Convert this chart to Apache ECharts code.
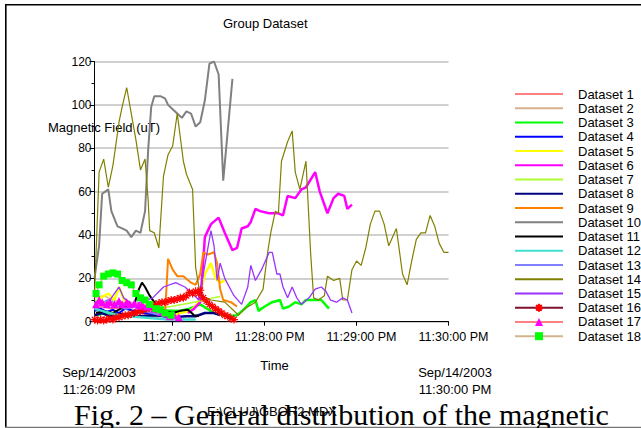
<!DOCTYPE html>
<html><head><meta charset="utf-8">
<script src="https://cdn.jsdelivr.net/npm/echarts@6/dist/echarts.min.js"></script>
<style>html,body{margin:0;padding:0;background:#fff}#c{width:641px;height:428px}</style>
</head><body><div id="c"></div>
<script>
// ---- data: [seconds after 11:26:09 PM, magnetic field uT] ----
const seriesNames = ['Dataset 1','Dataset 2','Dataset 3','Dataset 4','Dataset 5','Dataset 6','Dataset 7','Dataset 8','Dataset 9','Dataset 10','Dataset 11','Dataset 12','Dataset 13','Dataset 14','Dataset 15','Dataset 16','Dataset 17','Dataset 18'];
const xTickValues = [51, 111, 171, 231];
const xTickLabels = ['11:27:00 PM', '11:28:00 PM', '11:29:00 PM', '11:30:00 PM'];
const xStartLabel = ['Sep/14/2003', '11:26:09 PM'];
const xEndLabel = ['Sep/14/2003', '11:30:00 PM'];

const ds1 = [[0,6],[6,7],[12,6],[18,7],[24,5],[30,4],[36,3],[42,2]];
const ds2 = [[0,11],[6,12],[12,10],[18,9],[24,8],[30,7],[36,5],[42,4]];
const ds3 = [[0,3],[8,4],[16,3],[25,4],[35,5],[45,5],[55,5],[62,6],[69,8],[78,4],[86,2.5],[93,3],[98,6],[102,9],[105,10],[107,5],[111,7],[116,9],[121,10],[123,6],[127,7],[131,9],[135,8],[138,10],[143,10],[148,10],[153,6]];
const ds4 = [[0,5],[4,6],[8,4.5],[12,5.5],[16,4],[20,6],[26,5],[32,4],[38,3.5],[44,3],[50,2]];
const ds5 = [[0,8],[4,11],[9,13],[13,10],[16,16],[20,9],[25,7],[30,6],[37,5],[43,4],[50,3],[56,4],[63,5],[68,9],[72,22],[76,27],[79,20],[82,18],[85,19]];
const ds6 = [[61,4],[65,6],[69,9],[71,28],[72,39],[76,45],[81,48],[85,41],[90,33],[93,34],[96,43],[100,44],[102,46],[105,52],[108,51],[114,50],[120,50],[123,49],[126,58],[131,57],[135,61],[138,62],[144,69],[147,60],[152,50],[156,57],[159,59],[163,58],[165,52],[168,54]];
const ds7 = [[0,10],[10,9],[20,8],[30,7],[40,6],[50,7],[58,8],[65,9],[72,10],[77,11],[82,11.5]];
const ds8 = [[0,3],[5,4],[10,2.5],[16,3.5],[22,3],[30,2.5],[40,3],[50,2],[60,2.5],[66,2.5],[72,4],[78,4],[82,3]];
const ds9 = [[46,3],[48,29],[51,24],[54,21],[58,21],[63,18],[66,17],[69,22],[71,32],[74,31],[78,32],[80,27],[82,15],[84,10],[89,9],[93,7]];
const ds10 = [[0,20],[3,35],[5,59],[7,60],[9,61],[11,51],[15,44],[18,43],[21,42],[24,39],[27,42],[30,41],[33,51],[35,79],[37,99],[39,104],[43,104],[46,103],[48,100],[51,98],[54,96],[57,94],[60,97],[63,96],[66,90],[69,92],[72,102],[75,119],[78,120],[81,114],[84,65],[90,112]];
const ds11 = [[1,4],[6,5],[12,4],[17,6],[22,7],[26,8],[29,15],[31,18],[33,16],[36,12],[39,9],[43,6],[46,5],[51,4],[56,5],[61,5.5],[65,3],[68,2.5]];
const ds12 = [[0,6],[5,5],[10,4],[16,3],[22,2.5],[30,2],[40,1.5],[48,1],[56,1],[62,1],[66,1]];
const ds13 = [[0,9],[4,8],[9,10],[14,8],[20,6],[26,7],[32,5],[38,4],[44,3],[50,2]];
const ds14 = [[0,12],[3,69],[6,75],[9,62],[12,72],[16,92],[18,99],[21,108],[24,96],[27,84],[30,70],[33,75],[35,56],[36,42],[39,41],[42,34],[45,67],[48,77],[51,81],[54,96],[58,74],[60,68],[64,61],[66,25],[69,12],[76,10],[85,9],[94,3],[98,6],[105,9],[110,15],[113,32],[115,41],[118,51],[120,50],[122,74],[126,83],[129,88],[131,69],[134,61],[138,74],[141,32],[143,11],[146,10],[150,12],[152,21],[156,19],[160,20],[162,10],[165,10],[168,24],[171,28],[174,26],[177,34],[180,45],[183,51],[186,51],[189,45],[192,35],[197,43],[201,22],[204,17],[207,28],[210,38],[213,41],[216,41],[219,49],[222,44],[225,36],[228,32],[231,32]];
const ds15 = [[10,10],[14,14],[16,16],[19,11],[25,8],[30,9],[38,11],[45,16],[53,18],[59,16],[64,13],[68,10],[71,22],[76,42],[78,35],[80,19],[82,27],[85,20],[91,12],[96,8],[100,16],[102,26],[105,19],[109,24],[114,32],[116,32],[119,22],[121,22],[123,16],[126,11],[129,16],[132,11],[135,8],[140,11],[144,15],[148,16],[151,14],[154,10],[158,9],[162,11],[165,10],[168,4]];
const ds16 = [[0,1],[2,0.5],[4,1],[6,0.5],[8,1],[10,1.5],[12,1],[14,2],[16,2],[18,2.5],[20,3],[22,3],[24,3.5],[26,4],[28,4.5],[30,5],[32,5.5],[34,6],[36,6.5],[38,7.5],[40,8],[42,8.5],[44,9],[46,9],[48,9.5],[50,10],[52,10],[54,10.5],[56,11],[58,11],[60,12],[62,13.5],[64,13],[66,14],[68,13],[69,14.5],[71,11],[73,9.5],[75,8],[77,7],[79,6],[81,5],[83,4],[85,3],[87,2.5],[89,1.5],[91,1]];
const ds17 = [[1,8],[3,10],[5,9],[8,8],[10,9],[13,8],[16,9.5],[18,8],[21,9],[23,8],[26,8.5],[29,7.5],[31,8],[34,7],[36,7.5],[39,6],[42,6],[44,4.5],[47,4],[49,2.5],[52,3],[55,2]];
const ds18 = [[1,13],[3,17],[6,21],[9,22],[12,22.5],[15,22],[18,19],[21,18],[24,17],[27,13],[30,11],[33,10],[36,8],[40,6],[43,5.5],[46,4],[50,3]];
const allData = [ds1,ds2,ds3,ds4,ds5,ds6,ds7,ds8,ds9,ds10,ds11,ds12,ds13,ds14,ds15,ds16,ds17,ds18];

// ---- styles ----
const ASTERISK = 'path://M5,0L5,10M0,5L10,5M1.5,1.5L8.5,8.5M8.5,1.5L1.5,8.5';
const styles = [
  {color:'#FF8080', width:2},
  {color:'#D8B08C', width:1.5},
  {color:'#00FF00', width:2.5},
  {color:'#0000FF', width:2},
  {color:'#FFFF00', width:2.5},
  {color:'#FF00FF', width:2.5},
  {color:'#ADFF2F', width:1.5},
  {color:'#000080', width:2.5},
  {color:'#FF8000', width:2},
  {color:'#808080', width:2},
  {color:'#000000', width:2},
  {color:'#40E0D0', width:2.5},
  {color:'#8080FF', width:2.5},
  {color:'#808000', width:1.2},
  {color:'#9933FF', width:1.3},
  {color:'#801030', width:1.2, symbol:ASTERISK, symbolColor:'#FF0000', size:8, stroke:true},
  {color:'#FF8080', width:2.5, symbol:'triangle', symbolColor:'#FF00FF', size:8},
  {color:'#D2B48C', width:1.5, symbol:'rect', symbolColor:'#00FF00', size:7}
];
const FONT = '"Liberation Sans", Arial, sans-serif';

const series = seriesNames.map((name, i) => {
  const s = styles[i];
  const o = {
    name, type:'line', data: allData[i], animation:false,
    lineStyle:{color:s.color, width:s.width},
    emphasis:{disabled:true}
  };
  if (s.symbol) {
    o.symbol = s.symbol; o.symbolSize = s.size; o.showSymbol = true;
    o.itemStyle = s.stroke ? {color:s.symbolColor, borderColor:s.symbolColor, borderWidth:1.2} : {color:s.symbolColor, borderWidth:0};
  } else {
    o.symbol = 'none'; o.showSymbol = false;
    o.itemStyle = {color:s.color};
  }
  return o;
});

const chart = echarts.init(document.getElementById('c'), null, {renderer:'svg'});
chart.setOption({
  animation:false,
  backgroundColor:'#fff',
  title:{text:'Group Dataset', left:223, top:17, padding:0,
    textStyle:{fontSize:13, fontWeight:'normal', color:'#000', fontFamily:FONT}},
  grid:{left:94.5, right:192.5, top:61.5, bottom:106.3, containLabel:false, outerBoundsMode:'none'},
  legend:{
    orient:'vertical', left:514, top:87, padding:0, itemGap:0,
    itemWidth:48, itemHeight:10, selectedMode:false,
    textStyle:{fontSize:13, color:'#000', fontFamily:FONT, lineHeight:14.24, padding:[0,0,0,10]},
    data: seriesNames.map((n, i) => styles[i].symbol ? {name:n} : {name:n, itemStyle:{opacity:0}})
  },
  xAxis:{
    type:'value', min:0, max:231,
    name:'Time', nameLocation:'middle', nameGap:37,
    nameTextStyle:{fontSize:13, color:'#000', fontFamily:FONT, padding:[0,0,0,6]},
    axisLine:{lineStyle:{color:'#000', width:1}},
    axisTick:{show:true, customValues:xTickValues, length:4, lineStyle:{color:'#000'}},
    axisLabel:{customValues:xTickValues, margin:9, fontSize:12.5, color:'#000', fontFamily:FONT,
      padding:[0,0,0,10],
      formatter:(v) => { const k = xTickValues.indexOf(v); return k >= 0 ? xTickLabels[k] : ''; }},
    splitLine:{show:false}
  },
  yAxis:{
    type:'value', min:0, max:120, interval:20,
    axisLine:{show:true, lineStyle:{color:'#000', width:1}},
    axisTick:{show:true, length:5, lineStyle:{color:'#000'}},
    minorTick:{show:true, splitNumber:2, length:3, lineStyle:{color:'#000'}},
    axisLabel:{fontSize:12, color:'#000', margin:3, fontFamily:FONT},
    splitLine:{show:true, lineStyle:{color:'#C0C0C0', width:1.5}}
  },
  graphic:[
    {type:'line', silent:true, shape:{x1:5, y1:4.8, x2:641, y2:4.8}, style:{stroke:'#000', lineWidth:1.6}},
    {type:'line', silent:true, shape:{x1:5.8, y1:4, x2:5.8, y2:428}, style:{stroke:'#000', lineWidth:1.6}},
    {type:'line', silent:true, shape:{x1:5, y1:427.3, x2:641, y2:427.3}, style:{stroke:'#777', lineWidth:1.2}},
    {type:'text', silent:true, x:48, y:127, style:{text:'Magnetic Field (uT)', fill:'#000', font:'13px ' + FONT, textAlign:'left', textVerticalAlign:'middle'}},
    {type:'text', silent:true, x:99, y:372, style:{text:xStartLabel[0], fill:'#000', font:'13px ' + FONT, textAlign:'center', textVerticalAlign:'middle'}},
    {type:'text', silent:true, x:99, y:389, style:{text:xStartLabel[1], fill:'#000', font:'13px ' + FONT, textAlign:'center', textVerticalAlign:'middle'}},
    {type:'text', silent:true, x:455, y:372, style:{text:xEndLabel[0], fill:'#000', font:'13px ' + FONT, textAlign:'center', textVerticalAlign:'middle'}},
    {type:'text', silent:true, x:455, y:389, style:{text:xEndLabel[1], fill:'#000', font:'13px ' + FONT, textAlign:'center', textVerticalAlign:'middle'}},
    {type:'text', silent:true, x:272, y:411, style:{text:'E:\\CLUJ\\GBOR2.MDX', fill:'#000', font:'13px ' + FONT, textAlign:'center', textVerticalAlign:'middle'}},
    {type:'text', silent:true, x:74, y:414, style:{text:'Fig. 2 \u2013 General distribution of the magnetic', fill:'#000', font:'30px "Liberation Serif", "Times New Roman", serif', textAlign:'left', textVerticalAlign:'middle'}}
  ],
  series
});
</script>
</body></html>
